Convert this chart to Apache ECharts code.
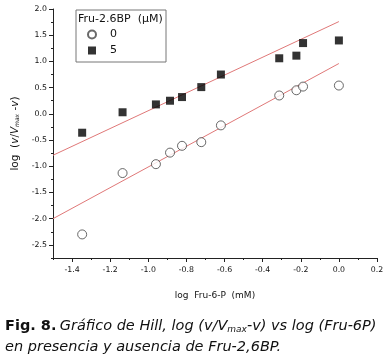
<!DOCTYPE html>
<html><head><meta charset="utf-8">
<script src="https://cdn.jsdelivr.net/npm/echarts@6/dist/echarts.min.js"></script>
<style>html,body{margin:0;padding:0;background:#fff}#c{width:387px;height:361px}</style>
</head><body><div id="c"></div>
<script>
// log [Fru-6-P] (mM)
const xValues = [-1.347, -1.135, -0.960, -0.886, -0.823, -0.722, -0.619, -0.313, -0.223, -0.188, 0.000];
// Fru-2,6BP 0 uM
const y0 = [-2.30, -1.13, -0.96, -0.74, -0.61, -0.54, -0.22, 0.35, 0.45, 0.52, 0.54];
// Fru-2,6BP 5 uM
const y5 = [-0.36, 0.03, 0.18, 0.25, 0.32, 0.51, 0.75, 1.06, 1.11, 1.35, 1.40];
// fitted lines (endpoints)
const fit0 = [[-1.5, -2.00], [0.0, 0.96]];
const fit5 = [[-1.5, -0.79], [0.0, 1.76]];
const xMajor = [-1.4, -1.2, -1.0, -0.8, -0.6, -0.4, -0.2, 0.0, 0.2];
const xMinor = [-1.5, -1.3, -1.1, -0.9, -0.7, -0.5, -0.3, -0.1, 0.1];
const yMajor = [-2.5, -2.0, -1.5, -1.0, -0.5, 0.0, 0.5, 1.0, 1.5, 2.0];
const yMinor = [-2.75, -2.25, -1.75, -1.25, -0.75, -0.25, 0.25, 0.75, 1.25, 1.75];

const F = 'DejaVu Sans';
const chart = echarts.init(document.getElementById('c'));
const axisCommon = {type: 'value', splitLine: {show: false}, axisLine: {show: true, onZero: false, lineStyle: {color: '#222', width: 1}}};
const hiddenLine = {show: false, onZero: false};
chart.setOption({
  animation: false,
  backgroundColor: '#fff',
  grid: {left: 53, right: 10, top: 9, bottom: 103},
  xAxis: [
    Object.assign({}, axisCommon, {
      min: -1.5, max: 0.2, position: 'bottom',
      axisTick: {show: true, length: 4, customValues: xMajor, lineStyle: {color: '#222'}},
      axisLabel: {customValues: xMajor, fontFamily: F, fontSize: 7.8, color: '#111', margin: 8,
        formatter: v => v.toFixed(1)},
      name: 'log  Fru-6-P  (mM)', nameLocation: 'middle', nameGap: 33,
      nameTextStyle: {fontFamily: F, fontSize: 9, color: '#111'}
    }),
    Object.assign({}, axisCommon, {
      min: -1.5, max: 0.2, position: 'bottom', axisLine: hiddenLine,
      axisTick: {show: true, length: 2, customValues: xMinor, lineStyle: {color: '#222'}},
      axisLabel: {show: false}
    })
  ],
  yAxis: [
    Object.assign({}, axisCommon, {
      min: -2.75, max: 2.0, position: 'left',
      axisTick: {show: true, length: 4, customValues: yMajor, lineStyle: {color: '#222'}},
      axisLabel: {customValues: yMajor, fontFamily: F, fontSize: 7.8, color: '#111', margin: 6,
        formatter: v => v.toFixed(1)},
      name: '{n|log  (}{i|v}{n|/}{i|V}{s|max}{n| -}{i|v}{n|)}', nameLocation: 'middle', nameGap: 30, nameRotate: 90,
      nameTextStyle: {fontFamily: F, fontSize: 10.5, color: '#111',
        rich: {n: {fontFamily: F, fontSize: 10.5, color: '#111'},
               i: {fontFamily: F, fontSize: 10.5, fontStyle: 'italic', color: '#111'},
               s: {fontFamily: F, fontSize: 6, fontStyle: 'italic', color: '#111', padding: [5, 0, 0, 0]}}}
    }),
    Object.assign({}, axisCommon, {
      min: -2.75, max: 2.0, position: 'left', axisLine: hiddenLine,
      axisTick: {show: true, length: 2, customValues: yMinor, lineStyle: {color: '#222'}},
      axisLabel: {show: false}
    })
  ],
  legend: {
    orient: 'vertical', left: 82, top: 24, itemWidth: 8, itemHeight: 8, itemGap: 5,
    data: ['0', '5'],
    textStyle: {fontFamily: F, fontSize: 11, color: '#111', padding: [0, 0, 0, 9]}
  },
  series: [
    {name: 'fit0', type: 'line', data: fit0, symbol: 'none', silent: true,
      lineStyle: {color: '#e07878', width: 1}, z: 1},
    {name: 'fit5', type: 'line', data: fit5, symbol: 'none', silent: true,
      lineStyle: {color: '#e07878', width: 1}, z: 1},
    {name: '0', type: 'scatter', data: xValues.map((x, i) => [x, y0[i]]), symbol: 'circle', symbolSize: 9,
      itemStyle: {color: '#fff', borderColor: '#444', borderWidth: 1}, z: 3},
    {name: '5', type: 'scatter', data: xValues.map((x, i) => [x, y5[i]]), symbol: 'rect', symbolSize: 8,
      itemStyle: {color: '#000'}, z: 3}
  ],
  graphic: [
    {type: 'rect', shape: {x: 76, y: 10, width: 90, height: 52}, style: {fill: 'none', stroke: '#777', lineWidth: 1}},
    {type: 'text', left: 78, top: 14, style: {text: 'Fru-2.6BP  (\u03bcM)', font: '11px "DejaVu Sans"', fill: '#111'}},
    {type: 'text', left: 5, top: 318, style: {
      text: '{b|Fig. 8.} {i|Gráfico de Hill, log (v/V}{s|max}{i|-v) vs log (Fru-6P)}\n{i|en presencia y ausencia de Fru-2,6BP.}',
      rich: {
        b: {fontFamily: F, fontSize: 14.5, fontWeight: 'bold', fill: '#111', lineHeight: 21},
        i: {fontFamily: F, fontSize: 14.5, fontStyle: 'italic', fill: '#111', lineHeight: 21},
        s: {fontFamily: F, fontSize: 9, fontStyle: 'italic', fill: '#111', padding: [7, 0, 0, 0], lineHeight: 21}
      }}}
  ]
});
</script></body></html>
